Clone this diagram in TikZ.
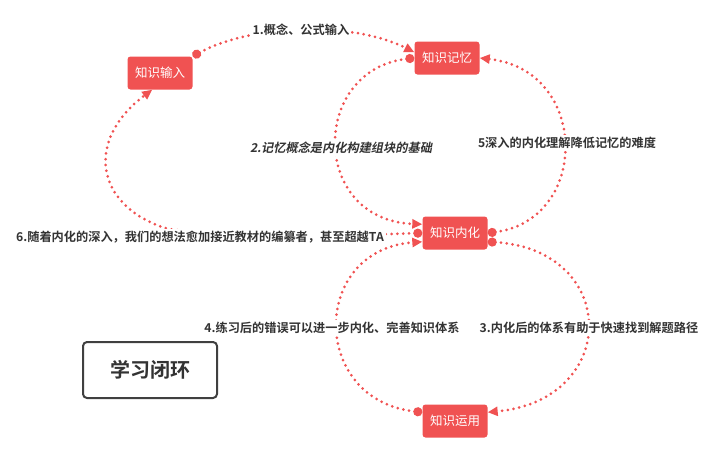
\documentclass[tikz,border=0pt]{standalone}
\usepackage{fontspec}
\setmainfont{Noto Sans CJK SC}[BoldFont={Noto Sans CJK SC Bold}]
\newfontfamily\slfont[FakeSlant=0.2]{Noto Sans CJK SC Bold}
\usetikzlibrary{arrows.meta}
\definecolor{loopred}{RGB}{240,82,82}
\definecolor{textgray}{RGB}{51,51,51}
\definecolor{boxgray}{RGB}{64,64,64}
\tikzset{
  stage/.style={fill=loopred,text=white,rounded corners=3pt,minimum width=65pt,minimum height=33pt,font=\fontsize{12.5}{14}\selectfont},
  link/.style={loopred,line width=3pt,dash pattern=on 0pt off 5.8pt,line cap=round,{Circle[length=9pt]}-{Triangle[length=10pt,width=9pt]}},
  note/.style={fill=white,text=textgray,inner sep=2pt,font=\bfseries\fontsize{12.2}{14}\selectfont},
}

\begin{document}
\begin{tikzpicture}[x=1pt,y=-1pt]
\useasboundingbox (0,0) rectangle (720,451);
\node[stage] (in) at (160,73) {知识输入};
\node[stage] (mem) at (447,58) {知识记忆};
\node[stage] (int) at (455,233) {知识内化};
\node[stage] (app) at (455,421) {知识运用};
\node[draw=boxgray,line width=2pt,rounded corners=4pt,minimum width=134pt,minimum height=56pt,text=textgray,font=\bfseries\fontsize{20}{24}\selectfont] (title) at (150,370) {学习闭环};
\draw[link] (in.north east) .. controls (250,25) and (350,20) .. (mem.170);
\draw[link] (mem.west) .. controls (310,70) and (310,220) .. (int.165);
\draw[link] (int.east) .. controls (590,220) and (590,70) .. (mem.east);
\draw[link] (int.-15) .. controls (620,250) and (620,400) .. (app.15);
\draw[link] (app.165) .. controls (310,400) and (310,250) .. (int.195);
\draw[link] (int.west) .. controls (300,237) and (200,236) .. (165,228) .. controls (95,205) and (85,140) .. (in.-115);
\node[note] (n1) at (301,30) {1.概念、公式输入};
\node[note,font=\slfont\fontsize{12.2}{14}\selectfont] (n2) at (341,148) {2.记忆概念是内化构建组块的基础};
\node[note] (n5) at (567,143) {5深入的内化理解降低记忆的难度};
\node[note] (n6) at (200,237) {6.随着内化的深入，我们的想法愈加接近教材的编纂者，甚至超越TA};
\node[note] (n4) at (332,328) {4.练习后的错误可以进一步内化、完善知识体系};
\node[note] (n3) at (589,328) {3.内化后的体系有助于快速找到解题路径};
\end{tikzpicture}
\end{document}
